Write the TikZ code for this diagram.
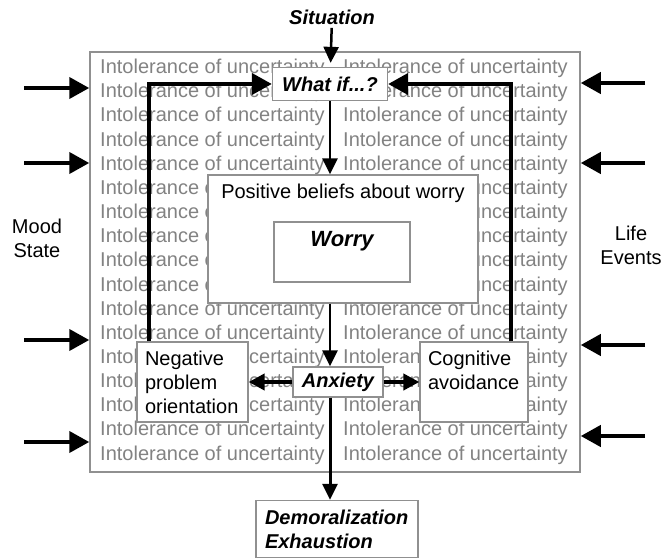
\documentclass[tikz,border=0pt]{standalone}
\usepackage{fontspec}
\setmainfont{Liberation Sans}
\usetikzlibrary{arrows.meta,positioning}

\definecolor{iugray}{HTML}{828282}
\definecolor{boxgray}{HTML}{909090}
\newcommand{\boxfont}{\fontsize{20}{24}\selectfont}
\newcommand{\keyfont}{\fontsize{20}{24}\selectfont\bfseries\itshape}

\begin{document}
\begin{tikzpicture}[x=1pt,y=-1pt,
		every node/.style={font=\boxfont},
		box/.style={draw=boxgray,fill=white,line width=1.3pt},
		key/.style={font=\keyfont},
		iu/.style={text=iugray,anchor=west,inner sep=0pt},
		bigarr/.style={line width=4pt,-{Triangle[length=20pt,width=21pt]}},
		horarr/.style={line width=4pt,-{Triangle[length=16pt,width=16pt]}},
		midarr/.style={line width=2.5pt,-{Triangle[length=16pt,width=15pt]}}]

	\useasboundingbox (0,0) rectangle (662,559);

	% intolerance of uncertainty background
	\node[draw=boxgray,line width=1.5pt,minimum width=490,minimum height=420,inner sep=0pt] (iu) at (335,262) {};
	\foreach \i in {0,...,16}{
		\node[iu] (iul\i) at (100,68.5+24.15*\i) {Intolerance of uncertainty};
		\node[iu] (iur\i) at (343,68.5+24.15*\i) {Intolerance of uncertainty};
	}

	\node[key] (sit) at (332,17) {Situation};
	\node[box,key,minimum width=115,minimum height=33,inner sep=0pt] (whatif) at (330,84) {What if...?};

	\node[box,minimum width=270,minimum height=128] (pos) at (343,239) {};
	\node (posl) at (343,193) {Positive beliefs about worry};
	\node[box,minimum width=136,minimum height=60] (worry) at (342,252) {};
	\node[key,font=\fontsize{22}{26}\selectfont\bfseries\itshape] (worryl) at (342,241) {Worry};

	\node[box,align=left,text width=95,inner xsep=8pt,minimum height=80] (neg) at (192.5,382) {Negative\\problem\\orientation};
	\node[box,key,minimum width=90,minimum height=30,inner sep=0pt] (anx) at (338,382) {Anxiety};
	\node[box,align=left,text width=92,inner xsep=8pt,minimum height=80] (cog) at (474,382) {Cognitive\\avoidance\\\mbox{}};

	\node[box,key,align=left,text width=144,inner xsep=9pt,minimum height=57] (dem) at (337,529) {Demoralization\\Exhaustion};

	\node[align=center] (mood) at (37,238) {Mood\\State};
	\node[align=center] (life) at (631,245) {Life\\Events};

	% arrows
	\draw[midarr,shorten >=4pt] (sit) -- (whatif);
	\draw[midarr] (whatif) -- (whatif |- pos.north);
	\draw[midarr] (pos.south -| whatif) -- (anx.north -| whatif);
	\draw[midarr,line width=3pt] (anx.south -| whatif) -- (dem.north -| whatif);
	\draw[horarr] (anx) -- (neg);
	\draw[horarr] (anx) -- (cog);
	\draw[bigarr] ([xshift=13pt]neg.north west) |- (whatif);
	\draw[bigarr] ([xshift=-18pt]cog.north east) |- (whatif);

	\foreach \y [count=\k] in {88,163,340,442}{
		\coordinate (ml\k) at (24,\y);
		\draw[bigarr] (ml\k) -- (ml\k -| iu.west);
	}
	\foreach \y [count=\k] in {83,163,345,436}{
		\coordinate (lr\k) at (645,\y);
		\draw[bigarr] (lr\k) -- (lr\k -| iu.east);
	}
\end{tikzpicture}
\end{document}
